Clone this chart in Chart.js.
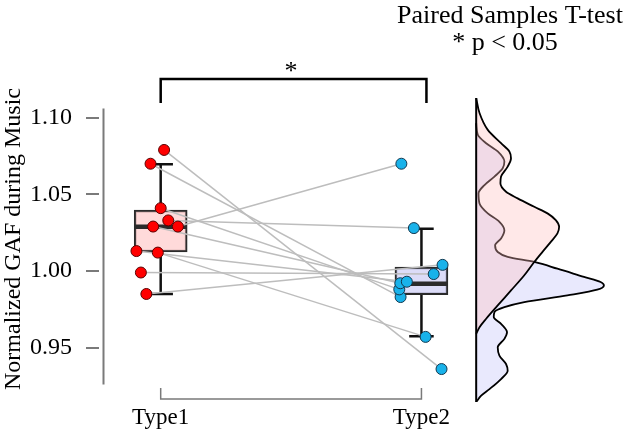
<!DOCTYPE html>
<html>
<head>
<meta charset="utf-8">
<script src="https://cdn.jsdelivr.net/npm/chart.js@4"></script>
<style>
  html, body { margin: 0; padding: 0; background: #fff; }
  #wrap { width: 624px; height: 431px; }
</style>
</head>
<body>
<div id="wrap"><canvas id="gafChart" width="624" height="431"></canvas></div>
<script>
// categories and paired values (same index = same subject)
var categories = ['Type1', 'Type2'];
var type1Values = [1.079, 1.070, 1.041, 1.033, 1.029, 1.029, 1.013, 1.012, 0.999, 0.985];
var type2Values = [0.936, 0.983, 0.988, 1.028, 0.992, 1.070, 0.993, 0.957, 0.998, 1.004];
// horizontal jitter of the dots, in category units
var type1Jitter = [0.013, -0.039, 0, 0.029, -0.029, 0.066, -0.093, -0.011, -0.076, -0.055];
var type2Jitter = [0.077, -0.080, -0.085, -0.029, -0.081, -0.077, -0.056, 0.016, 0.047, 0.081];
// boxplot stats: [lower whisker, q1, median, q3, upper whisker]
var type1Box = [0.985, 1.0124, 1.0288, 1.0397, 1.0697];
var type2Box = [0.9574, 0.9845, 0.9917, 1.0026, 1.0275];
var yTicks = [0.95, 1.00, 1.05, 1.10];

// density curves on the right (GAF value, density)
var type1DensityY = [1.1129, 1.1031, 1.0921, 1.0834, 1.0780, 1.0736, 1.0681, 1.0616, 1.0572, 1.0517, 1.0474, 1.0419, 1.0376, 1.0332, 1.0288, 1.0245, 1.0190, 1.0125, 1.0059, 0.9972, 0.9873, 0.9775, 0.9688, 0.9633, 0.9590];
var type1Density = [0, 0.67, 2.33, 5.0, 6.67, 7.0, 6.33, 5.0, 4.87, 6.0, 8.33, 11.67, 14.33, 16.0, 16.67, 16.33, 15.0, 13.33, 11.67, 9.67, 7.0, 4.33, 2.0, 0.67, 0];
var type2DensityY = [1.0965, 1.0889, 1.0834, 1.0780, 1.0714, 1.0670, 1.0616, 1.0561, 1.0507, 1.0441, 1.0376, 1.0321, 1.0266, 1.0212, 1.0168, 1.0124, 1.0092, 1.0059, 1.0015, 0.9961, 0.9928, 0.9906, 0.9878, 0.9841, 0.9797, 0.9764, 0.9732, 0.9699, 0.9655, 0.9600, 0.9557, 0.9502, 0.9448, 0.9393, 0.9349, 0.9295, 0.9229, 0.9186, 0.9145];
var type2Density = [0, 0.33, 2.0, 4.33, 5.67, 5.33, 3.67, 1.67, 0.47, 0.67, 2.33, 4.67, 5.67, 5.0, 3.8, 4.33, 6.33, 11.67, 16.33, 21.67, 25.0, 25.67, 24.33, 18.33, 9.67, 5.67, 3.67, 3.53, 5.0, 6.2, 5.67, 4.33, 4.67, 6.0, 6.33, 5.0, 2.67, 1.0, 0];

var serif = '"Liberation Serif", "Times New Roman", serif';
var BOX_HALF = 0.1;
var CAP_HALF = 0.047;

function pts(xs, ys) {
    return ys.map(function (v, i) { return { x: xs[i], y: v }; });
}

var datasets = [];

// dots (top-most)
datasets.push({
    type: 'scatter', label: 'Type1',
    data: type1Values.map(function (v, i) { return { x: 1 + type1Jitter[i], y: v }; }),
    backgroundColor: '#ff0000', borderColor: '#5a0000', borderWidth: 1, pointRadius: 5.5
});
datasets.push({
    type: 'scatter', label: 'Type2',
    data: type2Values.map(function (v, i) { return { x: 2 + type2Jitter[i], y: v }; }),
    backgroundColor: '#19b2ea', borderColor: '#12384f', borderWidth: 1, pointRadius: 5.5
});

// paired lines
type1Values.forEach(function (v, i) {
    datasets.push({
        type: 'line',
        data: [{ x: 1 + type1Jitter[i], y: v }, { x: 2 + type2Jitter[i], y: type2Values[i] }],
        borderColor: '#bdbdbd', borderWidth: 1.5, pointRadius: 0
    });
});

var boxes = [type1Box, type2Box];
var boxFills = ['rgba(255, 205, 205, 0.75)', 'rgba(208, 208, 246, 0.75)'];

// medians
boxes.forEach(function (b, i) {
    datasets.push({
        type: 'line',
        data: [{ x: i + 1 - BOX_HALF, y: b[2] }, { x: i + 1 + BOX_HALF, y: b[2] }],
        borderColor: '#2b2b2b', borderWidth: 4.5, pointRadius: 0
    });
});

// boxes as floating bars
datasets.push({
    type: 'bar', grouped: false,
    data: boxes.map(function (b, i) { return { x: i + 1, y: [b[1], b[3]] }; }),
    backgroundColor: boxFills, borderColor: '#2b2b2b', borderWidth: 2,
    borderSkipped: false, barThickness: 53
});

// whiskers and caps
boxes.forEach(function (b, i) {
    var c = i + 1;
    [[{ x: c, y: b[3] }, { x: c, y: b[4] }],
     [{ x: c, y: b[1] }, { x: c, y: b[0] }],
     [{ x: c - CAP_HALF, y: b[4] }, { x: c + CAP_HALF, y: b[4] }],
     [{ x: c - CAP_HALF, y: b[0] }, { x: c + CAP_HALF, y: b[0] }]].forEach(function (seg) {
        datasets.push({ type: 'line', data: seg, borderColor: '#111', borderWidth: 2.5, pointRadius: 0 });
    });
});

// density baseline
datasets.push({
    type: 'line', indexAxis: 'y', xAxisID: 'x2',
    data: [{ x: 0, y: 1.1129 }, { x: 0, y: 0.9145 }],
    borderColor: '#000', borderWidth: 2, pointRadius: 0
});

// densities: Type1 over Type2
datasets.push({
    type: 'line', indexAxis: 'y', xAxisID: 'x2',
    data: pts(type1Density, type1DensityY),
    borderColor: '#000', borderWidth: 1.8, pointRadius: 0,
    backgroundColor: 'rgba(255, 190, 190, 0.35)', fill: 'origin',
    cubicInterpolationMode: 'monotone'
});
datasets.push({
    type: 'line', indexAxis: 'y', xAxisID: 'x2',
    data: pts(type2Density, type2DensityY),
    borderColor: '#000', borderWidth: 1.8, pointRadius: 0,
    backgroundColor: 'rgba(200, 200, 250, 0.4)', fill: 'origin',
    cubicInterpolationMode: 'monotone'
});

var overlay = {
    id: 'overlay',
    afterDraw: function (chart) {
        var ctx = chart.ctx, area = chart.chartArea;
        var x = chart.scales.x, y = chart.scales.y;
        var x1 = x.getPixelForValue(1), x2 = x.getPixelForValue(2);
        ctx.save();

        // y axis line
        ctx.strokeStyle = '#7a7a7a';
        ctx.lineWidth = 2;
        ctx.beginPath();
        ctx.moveTo(area.left + 4.5, y.getPixelForValue(1.106));
        ctx.lineTo(area.left + 4.5, y.getPixelForValue(0.926));
        ctx.stroke();

        // x axis
        ctx.lineWidth = 1.5;
        ctx.beginPath();
        ctx.moveTo(x1, 388); ctx.lineTo(x1, 399);
        ctx.lineTo(x2, 399); ctx.lineTo(x2, 388);
        ctx.stroke();

        ctx.fillStyle = '#000';
        ctx.font = '23px ' + serif;
        ctx.textAlign = 'center';
        ctx.textBaseline = 'alphabetic';
        categories.forEach(function (c, i) {
            ctx.fillText(c, x.getPixelForValue(i + 1), 424);
        });

        // significance bracket
        ctx.strokeStyle = '#000';
        ctx.lineWidth = 2.5;
        ctx.beginPath();
        ctx.moveTo(x1, 103); ctx.lineTo(x1, 79);
        ctx.lineTo(x2 + 5, 79); ctx.lineTo(x2 + 5, 103);
        ctx.stroke();
        ctx.font = '26px ' + serif;
        ctx.fillText('*', (x1 + x2) / 2, 79);

        // title
        ctx.font = '26px ' + serif;
        ctx.fillText('Paired Samples T-test', 510, 23);
        ctx.fillText('* p < 0.05', 505, 50);

        // y axis title
        ctx.translate(20, 239);
        ctx.rotate(-Math.PI / 2);
        ctx.font = '24px ' + serif;
        ctx.fillText('Normalized GAF during Music', 0, 0);
        ctx.restore();
    }
};

new Chart(document.getElementById('gafChart').getContext('2d'), {
    type: 'line',
    data: { datasets: datasets },
    options: {
        responsive: false,
        animation: false,
        layout: { padding: { left: 0, right: 4, top: 98, bottom: 29 } },
        plugins: { legend: { display: false }, tooltip: { enabled: false }, title: { display: false } },
        scales: {
            x: { type: 'linear', display: false, min: 0.7634, max: 2.7519, offset: false },
            x2: { type: 'linear', display: false, min: -75.8, max: 28.4 },
            y: {
                type: 'linear', min: 0.9145, max: 1.1129,
                afterBuildTicks: function (scale) {
                    scale.ticks = yTicks.map(function (v) { return { value: v }; });
                },
                afterFit: function (scale) { scale.width = 99; },
                border: { display: false },
                grid: { drawOnChartArea: false, drawTicks: true, tickLength: 13, color: '#7a7a7a', lineWidth: 2 },
                ticks: {
                    padding: 14, color: '#000',
                    font: { family: serif, size: 24 },
                    callback: function (v) { return v.toFixed(2); }
                }
            }
        }
    },
    plugins: [overlay]
});
</script>
</body>
</html>
